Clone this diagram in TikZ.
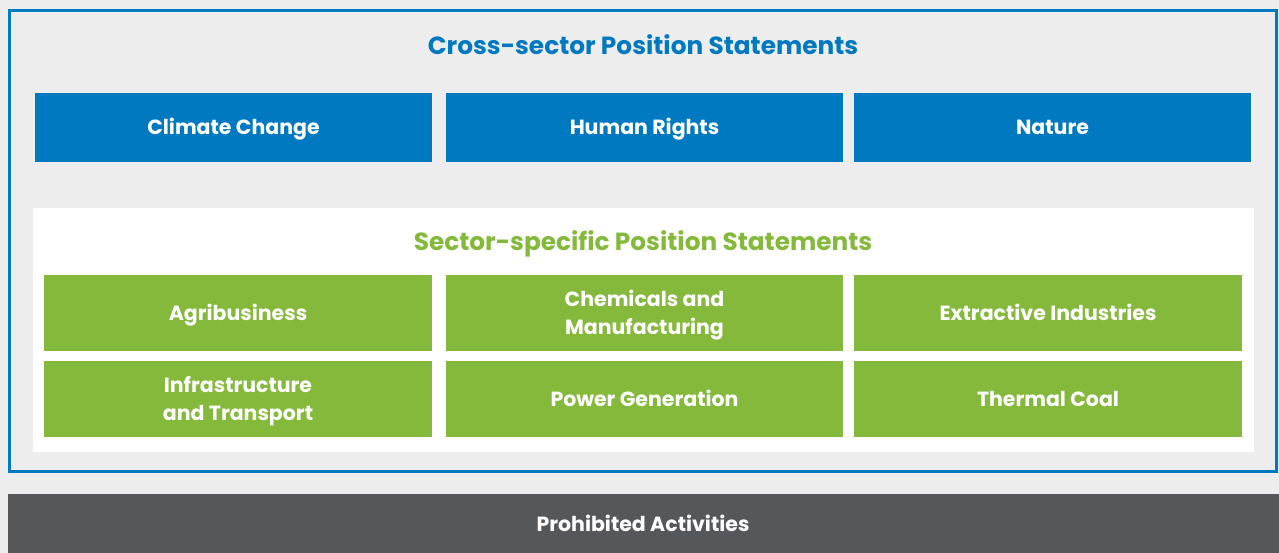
\documentclass[tikz,border=0pt]{standalone}
\usepackage{fontspec}
\setmainfont{Poppins}
\definecolor{bgray}{HTML}{EDEDED}
\definecolor{cblue}{HTML}{0079C1}
\definecolor{cgreen}{HTML}{84B93C}
\definecolor{cdark}{HTML}{55585B}
\begin{document}
\begin{tikzpicture}[x=1pt,y=-1pt,
  box/.style={inner sep=0pt,outer sep=0pt,text=white,font=\fontsize{20.5}{28}\selectfont\bfseries},
  one/.style={text height=14.3pt,text depth=0pt},
  two/.style={align=center,yshift=-2pt},
  bluebox/.style={box,one,fill=cblue,minimum width=397pt,minimum height=69pt},
  greenbox/.style={box,fill=cgreen,minimum height=76pt},
  headline/.style={font=\fontsize{24.8}{30}\selectfont\bfseries,inner sep=0pt,text height=17.4pt,text depth=0pt}]
\useasboundingbox (0,0) rectangle (1279,553);
\fill[bgray] (0,0) rectangle (1279,553);
\draw[cblue,line width=3pt] (9.5,11) rectangle (1276.5,471);
\node[headline,text=cblue] (t1) at (643,45.5) {Cross-sector Position Statements};
\node[bluebox] (cc) at (233.5,127.5) {Climate Change};
\node[bluebox] (hr) at (644.5,127.5) {Human Rights};
\node[bluebox] (na) at (1052.5,127.5) {Nature};
\fill[white] (33,208) rectangle (1254,452);
\node[headline,text=cgreen] (t2) at (643,242) {Sector-specific Position Statements};
\node[greenbox,one,minimum width=388pt] (ag) at (238,313) {Agribusiness};
\node[greenbox,minimum width=397pt] (chb) at (644.5,313) {};
\node[box,two] (ch) at (644.5,313) {Chemicals and\\Manufacturing};
\node[greenbox,one,minimum width=388pt] (ex) at (1048,313) {Extractive Industries};
\node[greenbox,minimum width=388pt] (inb) at (238,399) {};
\node[box,two] (in) at (238,399) {Infrastructure\\and Transport};
\node[greenbox,one,minimum width=397pt] (pg) at (644.5,399) {Power Generation};
\node[greenbox,one,minimum width=388pt] (tc) at (1048,399) {Thermal Coal};
\fill[cdark] (8,494) rectangle (1279,553);
\node[box,one] (pa) at (643,524) {Prohibited Activities};
\end{tikzpicture}
\end{document}
